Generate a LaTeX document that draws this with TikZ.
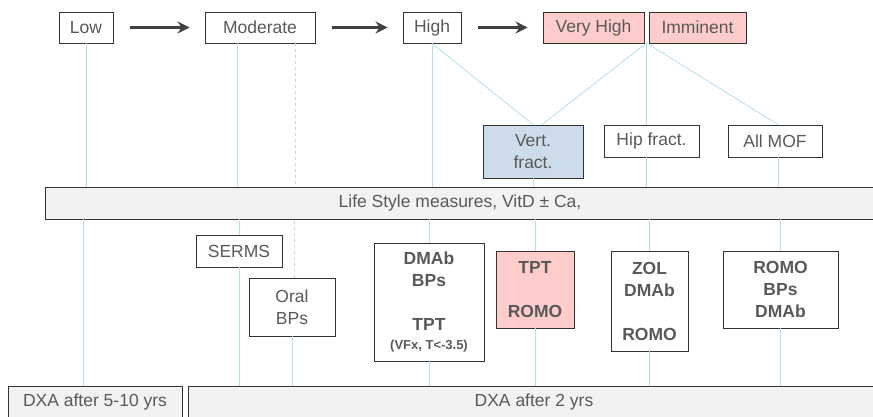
\documentclass[tikz,border=0pt]{standalone}
\usepackage{fontspec}
\setmainfont{Liberation Sans}
\usetikzlibrary{arrows.meta}
\definecolor{txtgray}{HTML}{595959}
\definecolor{linkblue}{HTML}{B7DEE8}
\definecolor{riskpink}{HTML}{FFCCCC}
\definecolor{fxblue}{HTML}{CCDCEB}
\definecolor{barfill}{HTML}{F2F2F2}
\definecolor{arrowgray}{HTML}{404040}

\begin{document}
\begin{tikzpicture}[x=1pt,y=-1pt]
  \useasboundingbox (0,0) rectangle (873,416);
  \clip (0,0) rectangle (873,416);
  \tikzstyle{every node}=[draw=black!80,line width=0.9pt,text=txtgray,font=\fontsize{17.5}{22}\selectfont,align=center,inner sep=0pt,minimum height=31pt]
  \tikzstyle{bold}=[font=\fontsize{17.5}{22}\selectfont\bfseries]
  \tikzstyle{band}=[fill=barfill,minimum height=32pt]
  \tikzstyle{link}=[draw=linkblue,line width=0.8pt]
  \tikzstyle{risk}=[draw=arrowgray,line width=2.6pt,-{Stealth[length=12pt,width=12pt,inset=4pt]},shorten <=17pt,shorten >=15pt]
  \node (low) [minimum width=54pt] at (86,27.5) {Low};
  \node (mod) [minimum width=110pt] at (260,27.5) {Moderate};
  \node (high) [minimum width=58pt] at (432,27.5) {High};
  \node (vhigh) [minimum width=101pt,fill=riskpink] at (593.5,27.5) {Very High};
  \node (immi) [minimum width=97pt,fill=riskpink] at (697.5,27.5) {Imminent};
  \coordinate (split) at (646.5,43);
  \node (vert) [minimum width=100pt,minimum height=53pt,fill=fxblue] at (533,151.5) {Vert.\\fract.};
  \node (hip) [minimum width=95pt,minimum height=32pt] at (651.5,141) {Hip fract.};
  \node (mof) [minimum width=94pt,minimum height=32pt] at (775,141) {All MOF};
  \node (life) [band,minimum width=830pt] at (460,203) {Life Style measures, VitD ± Ca,};
  \node (serms) [minimum width=86pt,minimum height=32pt] at (239,251) {SERMS};
  \node (oral) [minimum width=86pt,minimum height=58pt] at (292,307) {Oral\\BPs};
  \node (dmab) [bold,minimum width=110pt,minimum height=118pt] at (429,302) {DMAb\\BPs\\[22pt]TPT\\[-3pt]{\fontsize{13}{16}\selectfont(VFx, T<-3.5)}};
  \node (tpt) [bold,fill=riskpink,minimum width=78pt,minimum height=77pt] at (535,289.5) {TPT\\[22pt]ROMO};
  \node (zol) [bold,minimum width=77pt,minimum height=100pt] at (649.5,301) {ZOL\\DMAb\\[22pt]ROMO};
  \node (romo) [bold,minimum width=115pt,minimum height=77pt] at (780.5,289.5) {ROMO\\BPs\\DMAb};
  \node (dxaa) [band,minimum width=174pt] at (95,402) {DXA after 5-10 yrs};
  \node (dxab) [band,minimum width=692pt] at (534,402) {DXA after 2 yrs};
  \draw [risk] (low) -- (mod);
  \draw [risk] (mod) -- (high);
  \draw [risk] (high) -- (vhigh);
  \draw [link] (low.south) -- (low.south |- life.north);
  \draw [link] ([xshift=-23pt]mod.south) -- ([xshift=-23pt]mod.south |- life.north);
  \draw [link,dashed] ([xshift=35pt]mod.south) -- ([xshift=35pt]mod.south |- life.north);
  \draw [link] (high.south) -- (high.south |- life.north);
  \draw [link] (high.south) -- (vert.north);
  \draw [link] (split) -- ([xshift=9pt]vert.north);
  \draw [link] (split) -- (split |- hip.north);
  \draw [link] (split) -- ([xshift=3pt]mof.north);
  \draw [link] (vert.south) -- (vert.south |- life.north);
  \draw [link] (split |- hip.south) -- (split |- life.north);
  \draw [link] ([xshift=3pt]mof.south) -- ([xshift=3pt]mof.south |- life.north);
  \draw [link] ([xshift=-12pt]dxaa.north) -- ([xshift=-12pt]dxaa.north |- life.south);
  \draw [link] (serms.north) -- (serms.north |- life.south);
  \draw [link] (serms.south) -- (serms.south |- dxab.north);
  \draw [link,dashed] ([xshift=2pt]oral.north) -- ([xshift=2pt]oral.north |- life.south);
  \draw [link] (oral.south) -- (oral.south |- dxab.north);
  \draw [link] (dmab.north) -- (dmab.north |- life.south);
  \draw [link] (dmab.south) -- (dmab.south |- dxab.north);
  \draw [link] (tpt.north) -- (tpt.north |- life.south);
  \draw [link] (tpt.south) -- (tpt.south |- dxab.north);
  \draw [link] (zol.north) -- (zol.north |- life.south);
  \draw [link] (zol.south) -- (zol.south |- dxab.north);
  \draw [link] (romo.north) -- (romo.north |- life.south);
  \draw [link] (romo.south) -- (romo.south |- dxab.north);
\end{tikzpicture}
\end{document}
